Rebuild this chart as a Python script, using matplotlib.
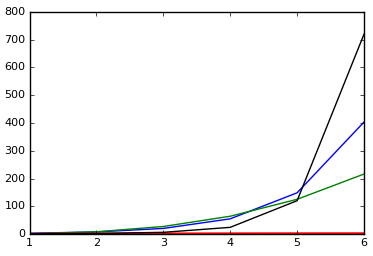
import matplotlib
matplotlib.use('Agg')

import matplotlib.pyplot as plt

# values
x = [1, 2, 3, 4, 5, 6]
blue_vals = [2.7, 7.4, 20.1, 54.6, 148.4, 403.4]
green_vals = [1, 8, 27, 64, 125, 216]
red_vals = [0, 0.7, 1.1, 1.4, 1.6, 1.8]
black_vals = [1, 2, 6, 24, 120, 720]

plt.style.use('classic')
plt.rcParams.update({
    "font.size": 8,
    "xtick.labelsize": 8,
    "ytick.labelsize": 8,
    "xtick.major.size": 3,
    "ytick.major.size": 3,
    "axes.linewidth": 1.0,
})

fig = plt.figure(figsize=(3.73, 2.56), dpi=100, facecolor="white")
ax = fig.add_axes([29.5 / 373, 1 - 234 / 256, (364 - 29.5) / 373, (234 - 12) / 256])

ax.plot(x, blue_vals, color="b", lw=1)
ax.plot(x, green_vals, color="g", lw=1)
ax.plot(x, red_vals, color="r", lw=1.8)
ax.plot(x, black_vals, color="k", lw=1)

ax.set_xlim(1, 6)
ax.set_ylim(0, 800)
ax.set_xticks(x)
ax.set_yticks(range(0, 801, 100))
ax.tick_params(direction="in", top=True, right=True, pad=3)

fig.savefig("out.png", dpi=100, facecolor="white")
plt.close(fig)
